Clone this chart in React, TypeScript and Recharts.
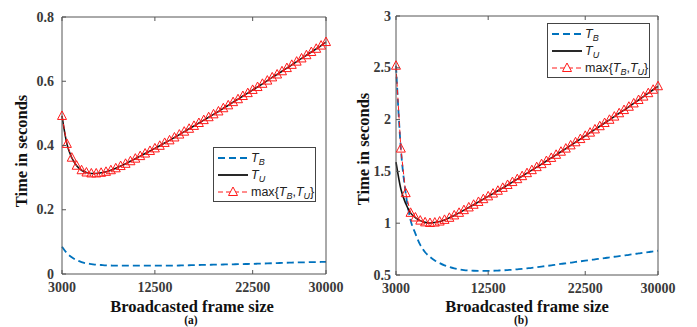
import React from 'react';
import { LineChart, Line, XAxis, YAxis } from 'recharts';

const FRAME_SIZES = [
  3000, 3500, 4000, 4500, 5000, 5500, 6000, 6500, 7000, 7500,
  8000, 8500, 9000, 9500, 10000, 10500, 11000, 11500, 12000, 12500,
  13000, 13500, 14000, 14500, 15000, 15500, 16000, 16500, 17000, 17500,
  18000, 18500, 19000, 19500, 20000, 20500, 21000, 21500, 22000, 22500,
  23000, 23500, 24000, 24500, 25000, 25500, 26000, 26500, 27000, 27500,
  28000, 28500, 29000, 29500, 30000,
];

const X_TICKS = [3000, 12500, 22500, 30000];

// (a)
const A_TB = [
  0.085, 0.065, 0.052, 0.043, 0.037, 0.033, 0.031, 0.029, 0.028, 0.027,
  0.0265, 0.026, 0.026, 0.026, 0.026, 0.026, 0.026, 0.026, 0.026, 0.026,
  0.026, 0.026, 0.026, 0.0262, 0.0265, 0.027, 0.0272, 0.0275, 0.028, 0.0282,
  0.0285, 0.029, 0.0292, 0.0295, 0.03, 0.0302, 0.0305, 0.031, 0.0312, 0.0315,
  0.032, 0.0325, 0.033, 0.0335, 0.034, 0.0345, 0.035, 0.0355, 0.036, 0.0362,
  0.0365, 0.037, 0.0372, 0.0375, 0.038,
];
const A_TU = [
  0.492, 0.405, 0.362, 0.337, 0.323, 0.316, 0.313, 0.313, 0.315, 0.318,
  0.323, 0.329, 0.336, 0.343, 0.351, 0.359, 0.367, 0.375, 0.383, 0.391,
  0.399, 0.408, 0.416, 0.425, 0.434, 0.443, 0.452, 0.461, 0.47, 0.479,
  0.488, 0.497, 0.506, 0.516, 0.525, 0.535, 0.544, 0.554, 0.563, 0.573,
  0.582, 0.592, 0.602, 0.612, 0.621, 0.631, 0.641, 0.651, 0.661, 0.671,
  0.681, 0.691, 0.701, 0.711, 0.722,
];
const A_MAX = [
  0.492, 0.405, 0.362, 0.337, 0.323, 0.316, 0.313, 0.313, 0.315, 0.318,
  0.323, 0.329, 0.336, 0.343, 0.351, 0.359, 0.367, 0.375, 0.383, 0.391,
  0.399, 0.408, 0.416, 0.425, 0.434, 0.443, 0.452, 0.461, 0.47, 0.479,
  0.488, 0.497, 0.506, 0.516, 0.525, 0.535, 0.544, 0.554, 0.563, 0.573,
  0.582, 0.592, 0.602, 0.612, 0.621, 0.631, 0.641, 0.651, 0.661, 0.671,
  0.681, 0.691, 0.701, 0.711, 0.722,
];
const A_Y_TICKS = [0, 0.2, 0.4, 0.6, 0.8];

// (b)
const B_TB = [
  2.52, 1.72, 1.29, 1.03, 0.9, 0.79, 0.72, 0.675, 0.64, 0.615,
  0.593, 0.577, 0.564, 0.554, 0.547, 0.543, 0.541, 0.54, 0.54, 0.54,
  0.541, 0.543, 0.545, 0.548, 0.551, 0.555, 0.559, 0.564, 0.569, 0.575,
  0.581, 0.587, 0.593, 0.6, 0.607, 0.613, 0.619, 0.626, 0.632, 0.638,
  0.644, 0.651, 0.657, 0.663, 0.67, 0.676, 0.682, 0.689, 0.695, 0.702,
  0.708, 0.715, 0.721, 0.728, 0.734,
];
const B_TU = [
  1.59, 1.33, 1.19, 1.1, 1.055, 1.025, 1.008, 1.002, 1.006, 1.016,
  1.032, 1.052, 1.075, 1.1, 1.126, 1.152, 1.178, 1.205, 1.232, 1.259,
  1.286, 1.313, 1.341, 1.369, 1.397, 1.425, 1.454, 1.483, 1.512, 1.541,
  1.57, 1.6, 1.63, 1.66, 1.69, 1.72, 1.751, 1.781, 1.812, 1.843,
  1.874, 1.905, 1.936, 1.967, 1.998, 2.029, 2.061, 2.092, 2.124, 2.156,
  2.189, 2.222, 2.255, 2.288, 2.322,
];
const B_MAX = [
  2.52, 1.72, 1.29, 1.1, 1.055, 1.025, 1.008, 1.002, 1.006, 1.016,
  1.032, 1.052, 1.075, 1.1, 1.126, 1.152, 1.178, 1.205, 1.232, 1.259,
  1.286, 1.313, 1.341, 1.369, 1.397, 1.425, 1.454, 1.483, 1.512, 1.541,
  1.57, 1.6, 1.63, 1.66, 1.69, 1.72, 1.751, 1.781, 1.812, 1.843,
  1.874, 1.905, 1.936, 1.967, 1.998, 2.029, 2.061, 2.092, 2.124, 2.156,
  2.189, 2.222, 2.255, 2.288, 2.322,
];
const B_Y_TICKS = [0.5, 1, 1.5, 2, 2.5, 3];

const AXIS_COLOR = '#555';
const TICK_TEXT = '#3a3a3a';
const BLUE = '#0072BD';
const RED = '#FF1A1A';
const SERIF = '"Liberation Serif", "Times New Roman", serif';
const SANS = '"Liberation Sans", Arial, sans-serif';

const build = (tb: number[], tu: number[], mx: number[]) =>
  FRAME_SIZES.map((x, i) => ({ x, tb: tb[i], tu: tu[i], mx: mx[i] }));

const BottomTick = (props: any) => {
  const { x, y, payload } = props;
  return (
    <g>
      <line x1={x} y1={y} x2={x} y2={y - 4} stroke={AXIS_COLOR} />
      <text x={x} y={y + 18} textAnchor="middle" fontFamily={SERIF} fontWeight="bold" fontSize={14} fill={TICK_TEXT}>
        {String(payload.value)}
      </text>
    </g>
  );
};
const TopTick = (props: any) => {
  const { x, y } = props;
  return <line x1={x} y1={y} x2={x} y2={y + 4} stroke={AXIS_COLOR} />;
};
const makeLeftTick = (gap: number) => (props: any) => {
  const { x, y, payload } = props;
  return (
    <g>
      <line x1={x} y1={y} x2={x + 4} y2={y} stroke={AXIS_COLOR} />
      <text x={x - gap} y={y + 4.5} textAnchor="end" fontFamily={SERIF} fontWeight="bold" fontSize={14} fill={TICK_TEXT}>
        {String(payload.value)}
      </text>
    </g>
  );
};
const RightTick = (props: any) => {
  const { x, y } = props;
  return <line x1={x} y1={y} x2={x - 4} y2={y} stroke={AXIS_COLOR} />;
};

const triPoints = (cx: number, cy: number) =>
  `${cx},${cy - 5} ${cx - 4.5},${cy + 3.5} ${cx + 4.5},${cy + 3.5}`;

const renderTri = (p: any) => (
  <polygon key={`tri-${p.index}`} points={triPoints(p.cx, p.cy)} fill="none" stroke={RED} strokeWidth={1} />
);

const Sub = ({ c }: { c: string }) => (
  <span style={{ fontStyle: 'italic', fontSize: 9, position: 'relative', top: 3 }}>{c}</span>
);
const T = ({ c }: { c: string }) => (
  <span>
    <span style={{ fontStyle: 'italic' }}>T</span>
    <Sub c={c} />
  </span>
);

const LegendBox = ({ left, top }: { left: number; top: number }) => {
  const rowStyle = (cy: number): React.CSSProperties => ({
    position: 'absolute',
    left: 3,
    top: cy - 9,
    height: 18,
    display: 'flex',
    alignItems: 'center',
    whiteSpace: 'nowrap',
  });
  return (
    <div
      style={{
        position: 'absolute',
        left,
        top,
        width: 101,
        height: 53,
        border: '1px solid #444',
        background: '#fff',
        fontFamily: SANS,
        fontSize: 12.5,
        color: '#222',
      }}
    >
      <div style={rowStyle(10)}>
        <svg width={32} height={18} style={{ marginRight: 2 }}>
          <line x1={1} y1={9} x2={31} y2={9} stroke={BLUE} strokeWidth={1.8} strokeDasharray="7 4" />
        </svg>
        <T c="B" />
      </div>
      <div style={rowStyle(26.5)}>
        <svg width={32} height={18} style={{ marginRight: 2 }}>
          <line x1={1} y1={9} x2={31} y2={9} stroke="#111" strokeWidth={1.8} />
        </svg>
        <T c="U" />
      </div>
      <div style={rowStyle(43.5)}>
        <svg width={32} height={18} style={{ marginRight: 2 }}>
          <line x1={1} y1={9} x2={31} y2={9} stroke={RED} strokeWidth={1} strokeDasharray="5 3" />
          <polygon points={triPoints(16, 9)} fill="#fff" stroke={RED} strokeWidth={1} />
        </svg>
        <span>
          max{'{'}
          <T c="B" />,<T c="U" />
          {'}'}
        </span>
      </div>
    </div>
  );
};

type PanelProps = {
  data: any[];
  width: number;
  height: number;
  margin: { top: number; right: number; bottom: number; left: number };
  yDomain: [number, number];
  yTicks: number[];
  labelGap: number;
};

const Panel = ({ data, width, height, margin, yDomain, yTicks, labelGap }: PanelProps) => {
  const LeftTick = makeLeftTick(labelGap);
  const xDomain = [FRAME_SIZES[0], FRAME_SIZES[FRAME_SIZES.length - 1]];
  return (
    <LineChart width={width} height={height} data={data} margin={margin}>
      <XAxis
        xAxisId="b"
        dataKey="x"
        type="number"
        domain={xDomain}
        ticks={X_TICKS}
        interval={0}
        height={1}
        tickSize={0}
        tickMargin={0}
        tickLine={false}
        axisLine={{ stroke: AXIS_COLOR }}
        tick={<BottomTick />}
      />
      <XAxis
        xAxisId="t"
        orientation="top"
        dataKey="x"
        type="number"
        domain={xDomain}
        ticks={X_TICKS}
        interval={0}
        height={1}
        tickSize={0}
        tickMargin={0}
        tickLine={false}
        axisLine={{ stroke: AXIS_COLOR }}
        tick={<TopTick />}
      />
      <YAxis
        yAxisId="l"
        type="number"
        domain={yDomain}
        ticks={yTicks}
        interval={0}
        width={1}
        tickSize={0}
        tickMargin={0}
        tickLine={false}
        axisLine={{ stroke: AXIS_COLOR }}
        tick={<LeftTick />}
      />
      <YAxis
        yAxisId="r"
        orientation="right"
        type="number"
        domain={yDomain}
        ticks={yTicks}
        interval={0}
        width={1}
        tickSize={0}
        tickMargin={0}
        tickLine={false}
        axisLine={{ stroke: AXIS_COLOR }}
        tick={<RightTick />}
      />
      <Line
        xAxisId="b"
        yAxisId="l"
        dataKey="tb"
        type="monotone"
        stroke={BLUE}
        strokeWidth={1.8}
        strokeDasharray="7 4"
        dot={false}
        isAnimationActive={false}
      />
      <Line
        xAxisId="b"
        yAxisId="l"
        dataKey="tu"
        type="monotone"
        stroke="#111"
        strokeWidth={1.6}
        dot={false}
        isAnimationActive={false}
      />
      <Line
        xAxisId="b"
        yAxisId="l"
        dataKey="mx"
        type="linear"
        stroke={RED}
        strokeWidth={1}
        strokeDasharray="5 3"
        dot={renderTri}
        isAnimationActive={false}
      />
    </LineChart>
  );
};

const textBold = (fs: number): React.CSSProperties => ({
  position: 'absolute',
  fontFamily: SERIF,
  fontWeight: 'bold',
  fontSize: fs,
  color: '#111',
  whiteSpace: 'nowrap',
  lineHeight: 1,
});

export default function App() {
  const dataA = build(A_TB, A_TU, A_MAX);
  const dataB = build(B_TB, B_TU, B_MAX);
  return (
    <div style={{ position: 'absolute', left: 0, top: 0, width: 697, height: 327, background: '#fff', overflow: 'hidden' }}>
      <div style={{ position: 'absolute', left: 0, top: 0 }}>
        <Panel
          data={dataA}
          width={348}
          height={327}
          margin={{ top: 16, right: 21, bottom: 52, left: 61 }}
          yDomain={[0, 0.8]}
          yTicks={A_Y_TICKS}
          labelGap={8}
        />
      </div>
      <div style={{ position: 'absolute', left: 348, top: 0 }}>
        <Panel
          data={dataB}
          width={349}
          height={327}
          margin={{ top: 15, right: 38, bottom: 51, left: 47 }}
          yDomain={[0.5, 3]}
          yTicks={B_Y_TICKS}
          labelGap={5}
        />
      </div>

      <LegendBox left={213} top={147} />
      <LegendBox left={547} top={23} />

      <div style={{ ...textBold(16.5), left: 192, top: 306.5, transform: 'translate(-50%, -50%)' }}>
        Broadcasted frame size
      </div>
      <div style={{ ...textBold(16.5), left: 527, top: 306.5, transform: 'translate(-50%, -50%)' }}>
        Broadcasted frame size
      </div>
      <div style={{ ...textBold(16.5), left: 22, top: 151, transform: 'translate(-50%, -50%) rotate(-90deg)' }}>
        Time in seconds
      </div>
      <div style={{ ...textBold(16.5), left: 364, top: 149, transform: 'translate(-50%, -50%) rotate(-90deg)' }}>
        Time in seconds
      </div>
      <div style={{ ...textBold(11.5), left: 191, top: 320.5, transform: 'translate(-50%, -50%)' }}>(a)</div>
      <div style={{ ...textBold(11.5), left: 521, top: 320.5, transform: 'translate(-50%, -50%)' }}>(b)</div>
    </div>
  );
}
